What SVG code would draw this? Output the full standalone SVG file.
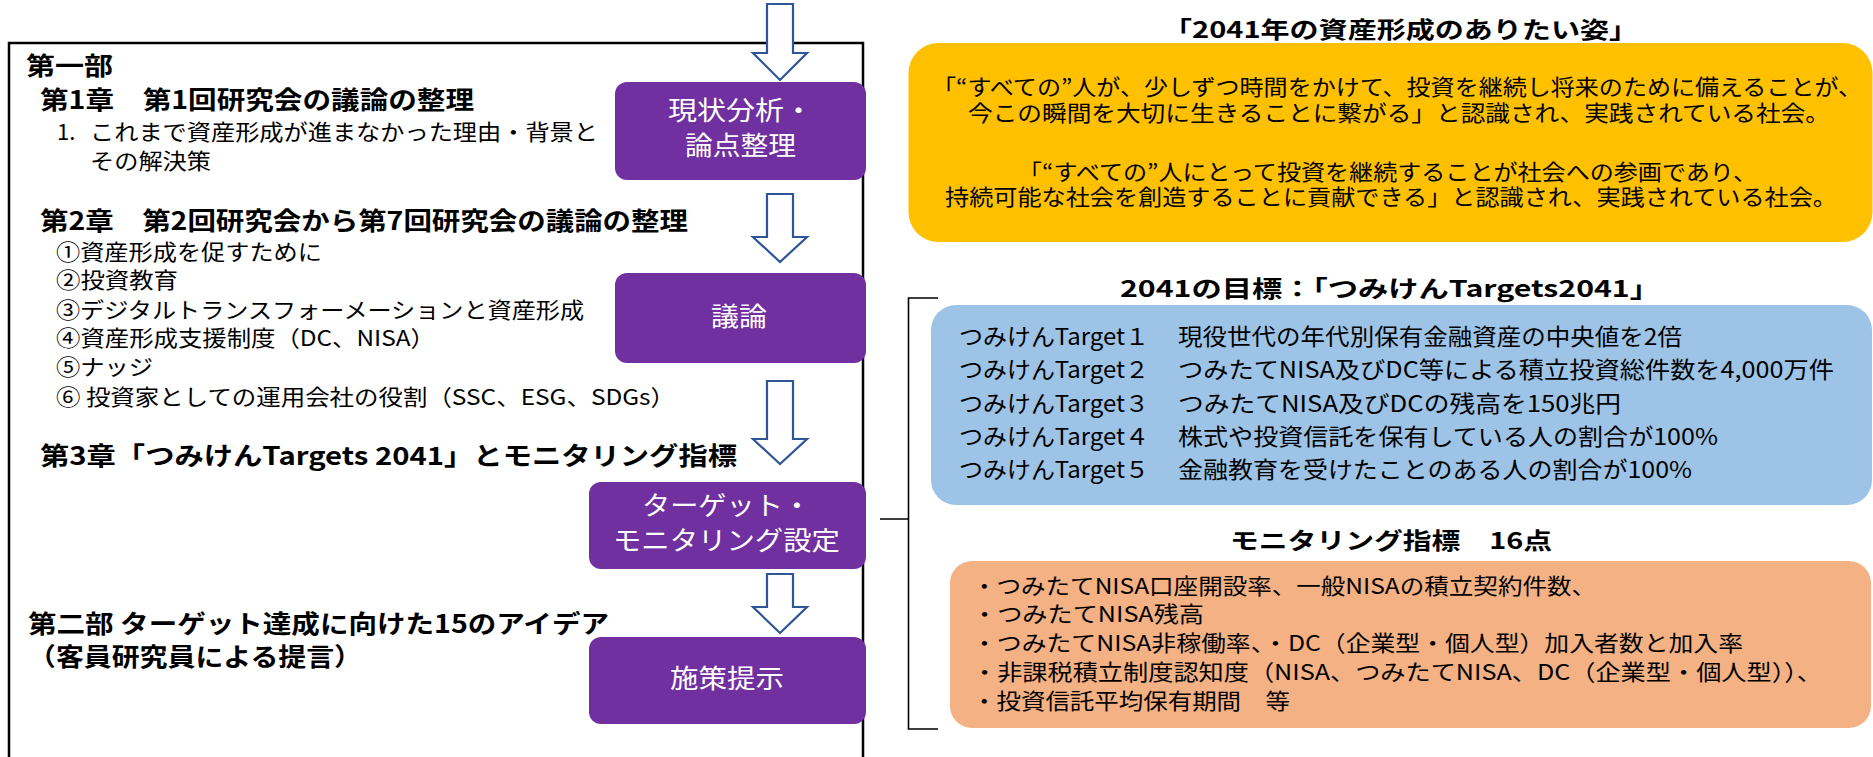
<svg xmlns="http://www.w3.org/2000/svg" width="1873" height="757" viewBox="0 0 1873 757">
<style>
text{font-family:"Noto Sans CJK JP","Noto Sans",sans-serif;fill:#000}
.b{font-weight:700;font-size:25px}
.r{font-size:22px}
.g{font-size:23px}
.t{font-weight:700;font-size:23px}
.y{font-size:22px}
.s{font-size:22px}
.w{font-size:26px;fill:#fff}
.pbox{fill:#7030A0}
.arrow{fill:#fff;stroke:#2F5597;stroke-width:2.2;stroke-linejoin:miter}
.line{fill:none;stroke:#000;stroke-width:2.5}
.brk{fill:none;stroke:#000;stroke-width:1.6}
</style>
<rect width="1873" height="757" fill="#fff"/>

<g id="outline">
<path class="line" d="M9,760 V43 H863 V760"/>
</g>

<g id="part1-text">
<text class="b" x="26" y="75" textLength="87" lengthAdjust="spacingAndGlyphs">第一部</text>
<text class="b" x="40" y="109" textLength="434" lengthAdjust="spacingAndGlyphs">第1章　第1回研究会の議論の整理</text>
<text class="r" x="57" y="140">1.</text>
<text class="r" x="90" y="140" textLength="508" lengthAdjust="spacingAndGlyphs">これまで資産形成が進まなかった理由・背景と</text>
<text class="r" x="90" y="169" textLength="121" lengthAdjust="spacingAndGlyphs">その解決策</text>
<text class="b" x="40" y="230" textLength="648" lengthAdjust="spacingAndGlyphs">第2章　第2回研究会から第7回研究会の議論の整理</text>
<text class="r" x="56" y="260" textLength="266" lengthAdjust="spacingAndGlyphs">①資産形成を促すために</text>
<text class="r" x="56" y="288" textLength="122" lengthAdjust="spacingAndGlyphs">②投資教育</text>
<text class="r" x="56" y="318" textLength="528" lengthAdjust="spacingAndGlyphs">③デジタルトランスフォーメーションと資産形成</text>
<text class="r" x="56" y="346" textLength="379" lengthAdjust="spacingAndGlyphs">④資産形成支援制度（DC、NISA）</text>
<text class="r" x="56" y="375" textLength="97" lengthAdjust="spacingAndGlyphs">⑤ナッジ</text>
<text class="r" x="56" y="405" textLength="619" lengthAdjust="spacingAndGlyphs">⑥ 投資家としての運用会社の役割（SSC、ESG、SDGs）</text>
<text class="b" x="40" y="465" textLength="697" lengthAdjust="spacingAndGlyphs">第3章「つみけんTargets 2041」とモニタリング指標</text>
</g>

<g id="part2-text">
<text class="b" x="28" y="633" textLength="581" lengthAdjust="spacingAndGlyphs">第二部 ターゲット達成に向けた15のアイデア</text>
<text class="b" x="28" y="666" textLength="334" lengthAdjust="spacingAndGlyphs">（客員研究員による提言）</text>
</g>

<g id="connectors">
<polygon class="arrow" points="767,4 793,4 793,53 807,53 780,80 753,53 767,53"/>
<polygon class="arrow" points="767,194 793,194 793,237 807,237 780,262 753,237 767,237"/>
<polygon class="arrow" points="767,381 793,381 793,439 807,439 780,464 753,439 767,439"/>
<polygon class="arrow" points="767,574 793,574 793,607 807,607 780,633 753,607 767,607"/>
<path class="brk" d="M938,298 H908.5 V729 H938 M880,519 H908.5"/>
</g>

<g id="node-genjo">
<rect class="pbox" x="615" y="82" width="251" height="98" rx="12"/>
<text class="w" x="668" y="120" textLength="145" lengthAdjust="spacingAndGlyphs">現状分析・</text>
<text class="w" x="685" y="155" textLength="111" lengthAdjust="spacingAndGlyphs">論点整理</text>
</g>

<g id="node-giron">
<rect class="pbox" x="615" y="273" width="251" height="90" rx="12"/>
<text class="w" x="711" y="326" textLength="56" lengthAdjust="spacingAndGlyphs">議論</text>
</g>

<g id="node-target">
<rect class="pbox" x="589" y="482" width="277" height="87" rx="12"/>
<text class="w" x="642" y="515" textLength="169" lengthAdjust="spacingAndGlyphs">ターゲット・</text>
<text class="w" x="613" y="550" textLength="227" lengthAdjust="spacingAndGlyphs">モニタリング設定</text>
</g>

<g id="node-shisaku">
<rect class="pbox" x="589" y="637" width="277" height="87" rx="12"/>
<text class="w" x="670" y="688" textLength="114" lengthAdjust="spacingAndGlyphs">施策提示</text>
</g>

<g id="node-vision">
<text class="t" x="1163" y="38" textLength="475" lengthAdjust="spacingAndGlyphs">「2041年の資産形成のありたい姿」</text>
<rect x="908.5" y="43" width="964" height="199" rx="30" fill="#FFC000"/>
<text class="y" x="932" y="95" textLength="930" lengthAdjust="spacingAndGlyphs">「“すべての”人が、少しずつ時間をかけて、投資を継続し将来のために備えることが、</text>
<text class="y" x="968" y="121" textLength="862" lengthAdjust="spacingAndGlyphs">今この瞬間を大切に生きることに繋がる」と認識され、実践されている社会。</text>
<text class="y" x="1018" y="180" textLength="739" lengthAdjust="spacingAndGlyphs">「“すべての”人にとって投資を継続することが社会への参画であり、</text>
<text class="y" x="945" y="205" textLength="892" lengthAdjust="spacingAndGlyphs">持続可能な社会を創造することに貢献できる」と認識され、実践されている社会。</text>
</g>

<g id="node-targets">
<text class="t" x="1120" y="297" textLength="540" lengthAdjust="spacingAndGlyphs">2041の目標：「つみけんTargets2041」</text>
<rect x="931" y="305" width="941" height="200" rx="25" fill="#9DC3E6"/>
<text class="g" x="959" y="345" textLength="190" lengthAdjust="spacingAndGlyphs">つみけんTarget１</text>
<text class="g" x="1178" y="345" textLength="504" lengthAdjust="spacingAndGlyphs">現役世代の年代別保有金融資産の中央値を2倍</text>
<text class="g" x="959" y="378" textLength="190" lengthAdjust="spacingAndGlyphs">つみけんTarget２</text>
<text class="g" x="1178" y="378" textLength="656" lengthAdjust="spacingAndGlyphs">つみたてNISA及びDC等による積立投資総件数を4,000万件</text>
<text class="g" x="959" y="412" textLength="190" lengthAdjust="spacingAndGlyphs">つみけんTarget３</text>
<text class="g" x="1178" y="412" textLength="443" lengthAdjust="spacingAndGlyphs">つみたてNISA及びDCの残高を150兆円</text>
<text class="g" x="959" y="445" textLength="190" lengthAdjust="spacingAndGlyphs">つみけんTarget４</text>
<text class="g" x="1178" y="445" textLength="540" lengthAdjust="spacingAndGlyphs">株式や投資信託を保有している人の割合が100%</text>
<text class="g" x="959" y="478" textLength="190" lengthAdjust="spacingAndGlyphs">つみけんTarget５</text>
<text class="g" x="1178" y="478" textLength="514" lengthAdjust="spacingAndGlyphs">金融教育を受けたことのある人の割合が100%</text>
</g>

<g id="node-monitoring">
<text class="t" x="1230" y="549" textLength="322" lengthAdjust="spacingAndGlyphs">モニタリング指標　16点</text>
<rect x="950" y="561" width="921" height="167" rx="22" fill="#F4B183"/>
<text class="s" x="972" y="594" textLength="624" lengthAdjust="spacingAndGlyphs">・つみたてNISA口座開設率、一般NISAの積立契約件数、</text>
<text class="s" x="972" y="622" textLength="232" lengthAdjust="spacingAndGlyphs">・つみたてNISA残高</text>
<text class="s" x="972" y="651" textLength="771" lengthAdjust="spacingAndGlyphs">・つみたてNISA非稼働率、・DC（企業型・個人型）加入者数と加入率</text>
<text class="s" x="972" y="680" textLength="850" lengthAdjust="spacingAndGlyphs">・非課税積立制度認知度（NISA、つみたてNISA、DC（企業型・個人型））、</text>
<text class="s" x="972" y="709" textLength="318" lengthAdjust="spacingAndGlyphs">・投資信託平均保有期間　等</text>
</g>
</svg>
